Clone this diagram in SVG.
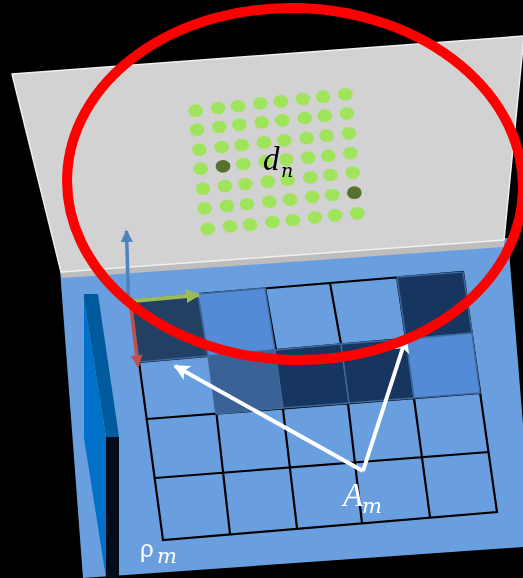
<svg xmlns="http://www.w3.org/2000/svg" width="523" height="578" viewBox="0 0 523 578">
<defs>
<filter id="soft" x="-5%" y="-5%" width="110%" height="110%"><feGaussianBlur stdDeviation="0.5"/></filter>
<marker id="hb" viewBox="0 0 10 10" refX="9" refY="5" markerWidth="3.500" markerHeight="3.500" orient="auto"><path d="M0 0L10 5L0 10Z" fill="#4f81bd"/></marker>
<marker id="hg" viewBox="0 0 10 10" refX="9" refY="5" markerWidth="3.500" markerHeight="3.500" orient="auto"><path d="M0 0L10 5L0 10Z" fill="#9bbb59"/></marker>
<marker id="hr" viewBox="0 0 10 10" refX="9" refY="5" markerWidth="3.500" markerHeight="3.500" orient="auto"><path d="M0 0L10 5L0 10Z" fill="#c0504d"/></marker>
<marker id="hw" viewBox="0 0 10 10" refX="9" refY="5" markerWidth="4" markerHeight="4" orient="auto"><path d="M0 0L10 5L0 10L2.5 5Z" fill="#fff"/></marker>
</defs>
<style>
.d{fill:#a0e45c}.k{fill:#566f2e}
.grid{fill:none;stroke:#000;stroke-width:2.2}
.sh{stroke:#3d679e;stroke-width:1.5}
.math{font-family:"Liberation Serif","DejaVu Serif",serif;font-style:italic}
.sub{font-family:"DejaVu Serif","Liberation Serif",serif;font-style:italic}
</style>
<rect width="523" height="578" fill="#000"/>
<g id="panel" filter="url(#soft)">
<polygon points="60,270 508,238 523,425 523,547 83,578" fill="#6b9fdf"/>
<polygon points="60,270 504,240 504,247 62,278" fill="#bdbdbd"/>
</g>
<g id="plane" filter="url(#soft)">
<polygon points="12,74 524,36 504,240 61,272" fill="#d2d2d2" stroke="#f0f0f0" stroke-width="1.500" stroke-linejoin="round"/>
</g>
<g id="wedge" filter="url(#soft)">
<polygon points="84,294 98,294 119,437 106,437 84,300" fill="#005a9e"/>
<polygon points="84,300 106,437 106,578 84,438" fill="#0070c8"/>
<polygon points="106,437 119,437 119,578 106,578" fill="#00101c"/>
</g>
<g id="grid" filter="url(#soft)">
<path class="grid" d="M198,294L463,272L497,512L163,540L139,362M139,362L472,333M147,419L480,393M155,478L489,452M210,356L230,534M276,350L297,528M341,344L362,523M406,339L430,517M265,288L276,350M330,283L341,344M397,277L406,339"/>
<polygon class="sh" points="131,300 198,294 208,356 139,362" fill="#243f63"/>
<polygon class="sh" points="198,294 265,288 275,350 208,356" fill="#528bd6"/>
<polygon class="sh" points="397,277 463,272 472,333 406,339" fill="#17365f"/>
<polygon class="sh" points="208,356 275,350 283,408 216,414" fill="#3a6297"/>
<polygon class="sh" points="275,350 341,344 349,403 283,408" fill="#17365f"/>
<polygon class="sh" points="341,344 406,339 414,398 349,403" fill="#17365f"/>
<polygon class="sh" points="406,339 472,333 480,393 414,398" fill="#528bd6"/>
</g>
<g id="dots" filter="url(#soft)">
<g transform="translate(170 70) scale(.3333)">
<g id="dot-field" class="d">
<ellipse cx="77" cy="122" rx="22" ry="19"/><ellipse cx="144" cy="114" rx="22" ry="19"/><ellipse cx="204" cy="108" rx="22" ry="19"/><ellipse cx="271" cy="100" rx="22" ry="19"/><ellipse cx="332" cy="94" rx="22" ry="19"/><ellipse cx="399" cy="87" rx="22" ry="19"/><ellipse cx="459" cy="80" rx="22" ry="19"/><ellipse cx="526" cy="73" rx="22" ry="19"/>
<ellipse cx="81" cy="179" rx="22" ry="19"/><ellipse cx="148" cy="171" rx="22" ry="19"/><ellipse cx="208" cy="164" rx="22" ry="19"/><ellipse cx="275" cy="157" rx="22" ry="19"/><ellipse cx="337" cy="151" rx="22" ry="19"/><ellipse cx="404" cy="144" rx="22" ry="19"/><ellipse cx="464" cy="137" rx="22" ry="19"/><ellipse cx="531" cy="130" rx="22" ry="19"/>
<ellipse cx="88" cy="239" rx="22" ry="19"/><ellipse cx="155" cy="231" rx="22" ry="19"/><ellipse cx="215" cy="225" rx="22" ry="19"/><ellipse cx="282" cy="217" rx="22" ry="19"/><ellipse cx="343" cy="211" rx="22" ry="19"/><ellipse cx="410" cy="204" rx="22" ry="19"/><ellipse cx="470" cy="197" rx="22" ry="19"/><ellipse cx="537" cy="190" rx="22" ry="19"/>
<ellipse cx="92" cy="296" rx="22" ry="19"/><ellipse class="k" cx="159" cy="289" rx="22" ry="19"/><ellipse cx="220" cy="282" rx="22" ry="19"/><ellipse cx="287" cy="275" rx="22" ry="19"/><ellipse cx="349" cy="269" rx="22" ry="19"/><ellipse cx="415" cy="263" rx="22" ry="19"/><ellipse cx="475" cy="257" rx="22" ry="19"/><ellipse cx="541" cy="249" rx="22" ry="19"/>
<ellipse cx="99" cy="356" rx="22" ry="19"/><ellipse cx="165" cy="348" rx="22" ry="19"/><ellipse cx="226" cy="342" rx="22" ry="19"/><ellipse cx="293" cy="335" rx="22" ry="19"/><ellipse cx="353" cy="329" rx="22" ry="19"/><ellipse cx="421" cy="322" rx="22" ry="19"/><ellipse cx="481" cy="315" rx="22" ry="19"/><ellipse cx="548" cy="308" rx="22" ry="19"/>
<ellipse cx="104" cy="415" rx="22" ry="19"/><ellipse cx="171" cy="408" rx="22" ry="19"/><ellipse cx="231" cy="402" rx="22" ry="19"/><ellipse cx="298" cy="395" rx="22" ry="19"/><ellipse cx="360" cy="389" rx="22" ry="19"/><ellipse cx="427" cy="381" rx="22" ry="19"/><ellipse cx="487" cy="375" rx="22" ry="19"/><ellipse class="k" cx="553" cy="368" rx="22" ry="19"/>
<ellipse cx="113" cy="477" rx="22" ry="19"/><ellipse cx="180" cy="469" rx="22" ry="19"/><ellipse cx="240" cy="464" rx="22" ry="19"/><ellipse cx="307" cy="456" rx="22" ry="19"/><ellipse cx="368" cy="450" rx="22" ry="19"/><ellipse cx="435" cy="442" rx="22" ry="19"/><ellipse cx="495" cy="436" rx="22" ry="19"/><ellipse cx="562" cy="430" rx="22" ry="19"/>
</g>
</g>
</g>
<g id="connectors" fill="none">
<line x1="128.500" y1="300" x2="126.500" y2="231" stroke="#4f81bd" stroke-width="3.500" marker-end="url(#hb)"/>
<line x1="133" y1="301" x2="199" y2="295" stroke="#9bbb59" stroke-width="4" marker-end="url(#hg)"/>
<line x1="130" y1="300" x2="138" y2="366" stroke="#c0504d" stroke-width="3.500" marker-end="url(#hr)"/>
<line x1="363" y1="471" x2="175" y2="366" stroke="#fff" stroke-width="4" marker-end="url(#hw)"/>
<line x1="363" y1="471" x2="406" y2="338" stroke="#fff" stroke-width="4" marker-end="url(#hw)"/>
</g>
<g id="ring" filter="url(#soft)"><ellipse cx="295" cy="184" rx="228" ry="176" transform="rotate(2 295 184)" fill="none" stroke="#ff0000" stroke-width="10"/></g>
<g id="label-dn" filter="url(#soft)"><text class="math" x="263" y="170" font-size="33" fill="#000">d</text><text class="sub" x="281" y="177" font-size="19" fill="#000">n</text></g>
<g id="label-am" filter="url(#soft)"><text class="math" x="343" y="506" font-size="33" fill="#fff">A</text><text class="sub" x="362" y="513" font-size="21" fill="#fff">m</text></g>
<g id="label-rho" filter="url(#soft)"><text x="140" y="557" font-family="Liberation Sans, sans-serif" font-size="24" fill="#fff">ρ</text><text class="sub" x="157" y="563" font-size="21" fill="#fff">m</text></g>
</svg>
